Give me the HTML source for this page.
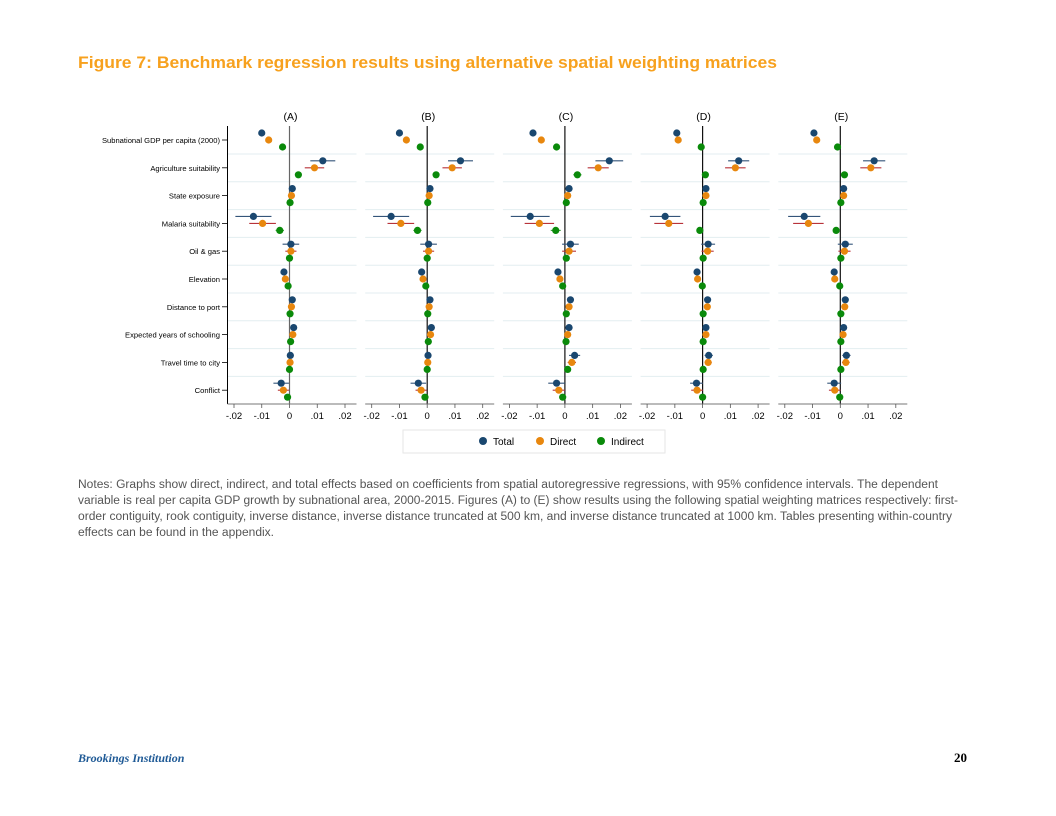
<!DOCTYPE html>
<html><head><meta charset="utf-8"><style>
html,body{margin:0;padding:0;background:#fff;}
svg{display:block;font-family:"Liberation Sans",sans-serif;}
</style></head><body>
<svg id="page" width="1056" height="816" viewBox="0 0 1056 816">
<text x="78" y="68" font-size="17" font-weight="bold" fill="#f7a11e" textLength="699" lengthAdjust="spacingAndGlyphs">Figure 7: Benchmark regression results using alternative spatial weighting matrices</text>
<g id="chart"></g>
<g>
<rect x="403" y="430" width="262" height="23" fill="#fff" stroke="#e6e6e6"/>
<circle cx="483" cy="441" r="4" fill="#1a476f"/>
<text x="493" y="445" font-size="10" fill="#000">Total</text>
<circle cx="540" cy="441" r="4" fill="#e8870e"/>
<text x="550" y="445" font-size="10" fill="#000">Direct</text>
<circle cx="601" cy="441" r="4" fill="#0a8a0a"/>
<text x="611" y="445" font-size="10" fill="#000">Indirect</text>
</g>
<g font-size="11.5" fill="#555">
<text x="78" y="488" textLength="860" lengthAdjust="spacingAndGlyphs">Notes: Graphs show direct, indirect, and total effects based on coefficients from spatial autoregressive regressions, with 95% confidence intervals. The dependent</text>
<text x="78" y="504" textLength="880" lengthAdjust="spacingAndGlyphs">variable is real per capita GDP growth by subnational area, 2000-2015. Figures (A) to (E) show results using the following spatial weighting matrices respectively: first-</text>
<text x="78" y="520" textLength="874" lengthAdjust="spacingAndGlyphs">order contiguity, rook contiguity, inverse distance, inverse distance truncated at 500 km, and inverse distance truncated at 1000 km. Tables presenting within-country</text>
<text x="78" y="536" textLength="196" lengthAdjust="spacingAndGlyphs">effects can be found in the appendix.</text>
</g>
<text x="78" y="762" font-family="'Liberation Serif',serif" font-style="italic" font-weight="bold" font-size="12" fill="#1f5a96">Brookings Institution</text>
<text x="967" y="762" text-anchor="end" font-family="'Liberation Serif',serif" font-weight="bold" font-size="13" fill="#000">20</text>
</svg>
<script>
const variables = ["Subnational GDP per capita (2000)","Agriculture suitability","State exposure","Malaria suitability","Oil & gas","Elevation","Distance to port","Expected years of schooling","Travel time to city","Conflict"];
const panelTitles = ["(A)","(B)","(C)","(D)","(E)"];
const tickValues = [-0.02,-0.01,0,0.01,0.02];
const tickLabels = ["-.02","-.01","0",".01",".02"];
// values in units of 0.01
const totalA = [-1.0,1.2,0.1,-1.3,0.05,-0.2,0.1,0.15,0.03,-0.3];
const totalErrA = [0.1,0.45,0.05,0.65,0.3,0.08,0.05,0.05,0.12,0.28];
const directA = [-0.75,0.9,0.07,-0.97,0.05,-0.15,0.07,0.12,0.02,-0.22];
const directErrA = [0.05,0.35,0.05,0.48,0.2,0.05,0.05,0.05,0.08,0.2];
const indirectA = [-0.25,0.32,0.02,-0.35,0.0,-0.05,0.02,0.04,0.0,-0.07];
const indirectErrA = [0.05,0.08,0.03,0.15,0.03,0.03,0.03,0.03,0.03,0.04];
const totalB = [-1.0,1.2,0.1,-1.3,0.05,-0.2,0.1,0.15,0.03,-0.32];
const totalErrB = [0.1,0.45,0.05,0.65,0.3,0.08,0.05,0.05,0.12,0.28];
const directB = [-0.75,0.9,0.07,-0.95,0.05,-0.15,0.07,0.12,0.02,-0.22];
const directErrB = [0.05,0.35,0.05,0.48,0.2,0.05,0.05,0.05,0.08,0.2];
const indirectB = [-0.25,0.32,0.02,-0.35,0.0,-0.05,0.02,0.04,0.0,-0.08];
const indirectErrB = [0.05,0.08,0.03,0.15,0.03,0.03,0.03,0.03,0.03,0.04];
const totalC = [-1.15,1.6,0.15,-1.25,0.2,-0.25,0.2,0.15,0.35,-0.3];
const totalErrC = [0.12,0.5,0.05,0.7,0.3,0.08,0.05,0.05,0.2,0.3];
const directC = [-0.85,1.2,0.1,-0.92,0.15,-0.18,0.15,0.1,0.25,-0.22];
const directErrC = [0.05,0.38,0.05,0.53,0.25,0.05,0.05,0.05,0.15,0.22];
const indirectC = [-0.3,0.45,0.05,-0.33,0.05,-0.08,0.05,0.04,0.1,-0.08];
const indirectErrC = [0.05,0.15,0.03,0.18,0.03,0.03,0.03,0.03,0.03,0.04];
const totalD = [-0.93,1.3,0.12,-1.35,0.2,-0.2,0.18,0.12,0.22,-0.22];
const totalErrD = [0.05,0.38,0.05,0.55,0.25,0.05,0.05,0.05,0.15,0.23];
const directD = [-0.88,1.18,0.12,-1.22,0.18,-0.18,0.17,0.12,0.2,-0.2];
const directErrD = [0.05,0.37,0.05,0.52,0.22,0.05,0.05,0.05,0.13,0.21];
const indirectD = [-0.05,0.1,0.02,-0.1,0.02,-0.01,0.02,0.02,0.02,0.0];
const indirectErrD = [0.03,0.03,0.03,0.03,0.03,0.03,0.03,0.03,0.03,0.03];
const totalE = [-0.95,1.22,0.12,-1.3,0.18,-0.22,0.18,0.12,0.22,-0.22];
const totalErrE = [0.05,0.4,0.05,0.58,0.27,0.05,0.05,0.05,0.15,0.25];
const directE = [-0.85,1.1,0.12,-1.15,0.15,-0.2,0.16,0.1,0.2,-0.2];
const directErrE = [0.05,0.38,0.05,0.55,0.22,0.05,0.05,0.05,0.14,0.21];
const indirectE = [-0.1,0.15,0.02,-0.15,0.02,-0.02,0.02,0.02,0.02,-0.02];
const indirectErrE = [0.03,0.03,0.03,0.03,0.03,0.03,0.03,0.03,0.03,0.03];

const panels = [
 [totalA,totalErrA,directA,directErrA,indirectA,indirectErrA],
 [totalB,totalErrB,directB,directErrB,indirectB,indirectErrB],
 [totalC,totalErrC,directC,directErrC,indirectC,indirectErrC],
 [totalD,totalErrD,directD,directErrD,indirectD,indirectErrD],
 [totalE,totalErrE,directE,directErrE,indirectE,indirectErrE]
];
const NS="http://www.w3.org/2000/svg";
const root=document.getElementById('chart');
function mk(tag,attrs,parent){const e=document.createElementNS(NS,tag);for(const k in attrs)e.setAttribute(k,attrs[k]);(parent||root).appendChild(e);return e;}
const zero0=289.5, panelStep=137.7, pxPerUnit=2775; // px per 1.0
const rowY0=140, rowStep=27.8, plotTop=126, plotBottom=404;
function xScale(p,v){return zero0+p*panelStep+v*pxPerUnit;}
function yScale(i){return rowY0+i*rowStep;}
const serColors=["#1a476f","#e8870e","#0a8a0a"];
const ciColors=["#34557a","#b8333a","#3a9a3a"];
const serNames=["total","direct","indirect"];
const offsets=[-7,0,7];
// row labels
variables.forEach((v,i)=>{
 const t=mk('text',{x:220,y:yScale(i)+3,'text-anchor':'end','font-size':'7.6',fill:'#000'});
 t.textContent=v;
 
 
 const tk=mk('line',{x1:222,x2:227,y1:yScale(i),y2:yScale(i),stroke:'#000','stroke-width':0.8});
 
 
});
panels.forEach((pd,p)=>{
 const g=mk('g',{});
 
 
 const left=xScale(p,0)-62, right=xScale(p,0)+67;
 for(let i=0;i<variables.length-1;i++){
  const gl=mk('line',{x1:left,x2:right,y1:yScale(i)+14,y2:yScale(i)+14,stroke:'#e3eef0','stroke-width':1},g);
  
  
 }
 if(p===0){const ax=mk('line',{x1:227.5,x2:227.5,y1:plotTop,y2:plotBottom,stroke:'#000','stroke-width':1},g);
  
  }
 const zl=mk('line',{x1:xScale(p,0),x2:xScale(p,0),y1:plotTop,y2:plotBottom,stroke:p===0?'#666':'#111','stroke-width':1.2},g);
 
 
 const xa=mk('line',{x1:left,x2:right,y1:plotBottom,y2:plotBottom,stroke:'#777','stroke-width':1},g);
 
 
 tickValues.forEach((tv,k)=>{
  const x=xScale(p,tv);
  const tk=mk('line',{x1:x,x2:x,y1:plotBottom,y2:plotBottom+4,stroke:'#555','stroke-width':0.8},g);
  
  
  const tl=mk('text',{x:x,y:plotBottom+15,'text-anchor':'middle','font-size':'9.5',fill:'#000'},g);
  tl.textContent=tickLabels[k];
  
  
 });
 const ti=mk('text',{x:xScale(p,0)+1,y:120,'text-anchor':'middle','font-size':'10.5',fill:'#000'},g);
 ti.textContent=panelTitles[p];
 
 
 for(let s=0;s<3;s++){
  const vals=pd[s*2], errs=pd[s*2+1];
  vals.forEach((v,i)=>{
   const y=yScale(i)+offsets[s];
   const ci=mk('line',{x1:xScale(p,(v-errs[i])/100),x2:xScale(p,(v+errs[i])/100),y1:y,y2:y,stroke:ciColors[s],'stroke-width':1.1},g);
   
   
   const c=mk('circle',{cx:xScale(p,v/100),cy:y,r:3.6,fill:serColors[s]},g);
   
   
  });
 }
});
</script>
</body></html>
